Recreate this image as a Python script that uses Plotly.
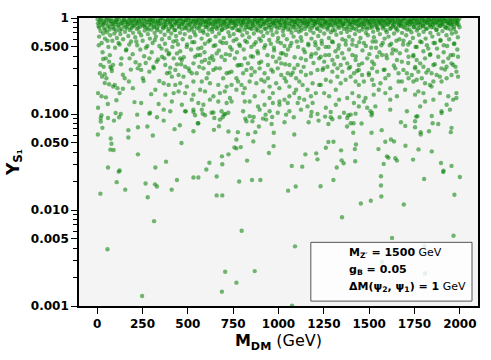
import plotly.graph_objects as go

# (M_DM [GeV], Y_S1), grouped by height on the log axis
top_band = [
    (3, 0.97), (8, 0.82), (11, 0.64), (14, 0.91), (19, 0.73), (22, 0.99), (25, 0.55), (28, 0.86), (33, 0.69), (36, 0.94),
    (39, 0.78), (43, 0.61), (47, 0.88), (51, 0.96), (54, 0.71), (58, 0.83), (62, 0.5), (65, 0.92), (69, 0.76), (72, 0.66),
    (76, 0.98), (80, 0.87), (84, 0.58), (88, 0.8), (91, 0.93), (95, 0.69), (98, 0.85),
    (102, 0.95), (106, 0.74), (109, 0.62), (113, 0.9), (117, 0.81), (121, 0.97), (124, 0.53), (128, 0.68), (132, 0.88), (135, 0.77),
    (139, 0.94), (143, 0.6), (146, 0.84), (150, 0.99), (154, 0.72), (158, 0.91), (161, 0.47), (165, 0.79), (169, 0.86), (172, 0.65),
    (176, 0.96), (180, 0.75), (184, 0.89), (187, 0.57), (191, 0.82), (195, 0.93), (198, 0.7),
    (203, 0.98), (207, 0.84), (210, 0.63), (214, 0.92), (218, 0.77), (221, 0.52), (225, 0.87), (229, 0.95), (232, 0.71), (236, 0.81),
    (240, 0.99), (243, 0.66), (247, 0.9), (251, 0.58), (254, 0.83), (258, 0.94), (262, 0.74), (265, 0.86), (269, 0.49), (273, 0.97),
    (276, 0.79), (280, 0.68), (284, 0.91), (288, 0.85), (291, 0.61), (295, 0.96), (299, 0.76),
    (302, 0.89), (306, 0.55), (310, 0.93), (313, 0.8), (317, 0.7), (321, 0.98), (324, 0.64), (328, 0.87), (332, 0.75), (335, 0.92),
    (339, 0.83), (343, 0.51), (347, 0.95), (350, 0.72), (354, 0.88), (358, 0.6), (361, 0.99), (365, 0.78), (369, 0.85), (372, 0.67),
    (376, 0.94), (380, 0.81), (383, 0.46), (387, 0.9), (391, 0.73), (395, 0.97), (398, 0.62),
    (402, 0.86), (406, 0.93), (409, 0.69), (413, 0.8), (417, 0.98), (420, 0.57), (424, 0.84), (428, 0.91), (431, 0.75), (435, 0.65),
    (439, 0.96), (443, 0.88), (446, 0.53), (450, 0.82), (454, 0.94), (457, 0.7), (461, 0.87), (465, 0.99), (468, 0.77), (472, 0.6),
    (476, 0.92), (480, 0.84), (483, 0.68), (487, 0.95), (491, 0.79), (494, 0.5), (498, 0.89),
    (502, 0.97), (505, 0.74), (509, 0.85), (513, 0.63), (517, 0.93), (520, 0.8), (524, 0.56), (528, 0.9), (531, 0.98), (535, 0.71),
    (539, 0.86), (542, 0.66), (546, 0.94), (550, 0.78), (554, 0.88), (557, 0.48), (561, 0.96), (565, 0.83), (568, 0.73), (572, 0.91),
    (576, 0.61), (579, 0.99), (583, 0.85), (587, 0.7), (591, 0.93), (594, 0.54), (598, 0.81),
    (601, 0.9), (605, 0.96), (609, 0.67), (612, 0.84), (616, 0.76), (620, 0.98), (623, 0.59), (627, 0.87), (631, 0.92), (635, 0.72),
    (638, 0.8), (642, 0.51), (646, 0.95), (649, 0.86), (653, 0.64), (657, 0.9), (661, 0.77), (664, 0.99), (668, 0.82), (672, 0.69),
    (675, 0.93), (679, 0.57), (683, 0.88), (686, 0.75), (690, 0.97), (694, 0.83), (698, 0.62),
    (701, 0.91), (705, 0.78), (709, 0.94), (712, 0.55), (716, 0.86), (720, 0.99), (724, 0.71), (727, 0.82), (731, 0.65), (735, 0.93),
    (738, 0.88), (742, 0.47), (746, 0.96), (750, 0.79), (753, 0.68), (757, 0.9), (761, 0.84), (764, 0.98), (768, 0.6), (772, 0.75),
    (775, 0.92), (779, 0.87), (783, 0.53), (787, 0.95), (790, 0.73), (794, 0.81), (798, 0.97),
    (801, 0.66), (805, 0.89), (809, 0.94), (813, 0.76), (816, 0.58), (820, 0.85), (824, 0.99), (827, 0.7), (831, 0.91), (835, 0.8),
    (838, 0.63), (842, 0.96), (846, 0.87), (850, 0.5), (853, 0.77), (857, 0.93), (861, 0.84), (864, 0.69), (868, 0.98), (872, 0.9),
    (875, 0.56), (879, 0.81), (883, 0.95), (886, 0.74), (890, 0.88), (894, 0.61), (898, 0.97),
    (901, 0.83), (905, 0.72), (909, 0.92), (912, 0.99), (916, 0.65), (920, 0.86), (923, 0.78), (927, 0.52), (931, 0.94), (934, 0.89),
    (938, 0.7), (942, 0.97), (946, 0.8), (949, 0.59), (953, 0.91), (957, 0.85), (960, 0.74), (964, 0.96), (968, 0.67), (971, 0.88),
    (975, 0.49), (979, 0.93), (983, 0.82), (986, 0.99), (990, 0.71), (994, 0.87), (998, 0.62),
    (1002, 0.95), (1005, 0.79), (1009, 0.9), (1013, 0.55), (1016, 0.84), (1020, 0.98), (1024, 0.73), (1027, 0.66), (1031, 0.92), (1035, 0.87),
    (1038, 0.8), (1042, 0.96), (1046, 0.6), (1050, 0.89), (1053, 0.76), (1057, 0.99), (1061, 0.83), (1064, 0.51), (1068, 0.93), (1072, 0.7),
    (1075, 0.86), (1079, 0.97), (1083, 0.64), (1086, 0.81), (1090, 0.91), (1094, 0.75), (1098, 0.94),
    (1101, 0.57), (1105, 0.88), (1108, 0.99), (1112, 0.72), (1116, 0.84), (1119, 0.93), (1123, 0.63), (1127, 0.79), (1131, 0.96), (1134, 0.86),
    (1138, 0.47), (1142, 0.9), (1145, 0.77), (1149, 0.98), (1153, 0.68), (1156, 0.85), (1160, 0.92), (1164, 0.54), (1167, 0.81), (1171, 0.95),
    (1175, 0.74), (1179, 0.89), (1182, 0.61), (1186, 0.97), (1190, 0.83), (1193, 0.7), (1197, 0.93),
    (1201, 0.87), (1204, 0.52), (1208, 0.96), (1212, 0.78), (1215, 0.9), (1219, 0.65), (1223, 0.99), (1226, 0.84), (1230, 0.73), (1234, 0.93),
    (1238, 0.58), (1241, 0.86), (1245, 0.97), (1249, 0.8), (1252, 0.69), (1256, 0.91), (1260, 0.5), (1263, 0.88), (1267, 0.95), (1271, 0.76),
    (1274, 0.83), (1278, 0.62), (1282, 0.98), (1286, 0.9), (1289, 0.71), (1293, 0.85), (1297, 0.94),
    (1300, 0.56), (1304, 0.82), (1308, 0.99), (1311, 0.74), (1315, 0.89), (1319, 0.67), (1323, 0.95), (1326, 0.86), (1330, 0.48), (1334, 0.79),
    (1337, 0.92), (1341, 0.97), (1345, 0.7), (1348, 0.84), (1352, 0.6), (1356, 0.9), (1360, 0.77), (1363, 0.98), (1367, 0.87), (1371, 0.53),
    (1374, 0.93), (1378, 0.72), (1382, 0.81), (1385, 0.96), (1389, 0.64), (1393, 0.88), (1397, 0.75),
    (1400, 0.99), (1404, 0.85), (1408, 0.59), (1411, 0.91), (1415, 0.78), (1419, 0.95), (1422, 0.68), (1426, 0.87), (1430, 0.51), (1434, 0.93),
    (1437, 0.82), (1441, 0.97), (1445, 0.73), (1448, 0.89), (1452, 0.62), (1456, 0.84), (1459, 0.99), (1463, 0.76), (1467, 0.92), (1471, 0.55),
    (1474, 0.86), (1478, 0.96), (1482, 0.7), (1485, 0.8), (1489, 0.94), (1493, 0.66), (1496, 0.88),
    (1500, 0.97), (1504, 0.79), (1508, 0.9), (1511, 0.49), (1515, 0.84), (1519, 0.98), (1522, 0.72), (1526, 0.63), (1530, 0.93), (1534, 0.87),
    (1537, 0.57), (1541, 0.81), (1545, 0.95), (1548, 0.75), (1552, 0.9), (1556, 0.99), (1559, 0.68), (1563, 0.86), (1567, 0.52), (1571, 0.92),
    (1574, 0.78), (1578, 0.97), (1582, 0.83), (1585, 0.61), (1589, 0.89), (1593, 0.94), (1597, 0.71),
    (1600, 0.85), (1604, 0.99), (1607, 0.64), (1611, 0.91), (1615, 0.77), (1618, 0.96), (1622, 0.54), (1626, 0.88), (1630, 0.82), (1633, 0.93),
    (1637, 0.69), (1641, 0.98), (1644, 0.8), (1648, 0.46), (1652, 0.9), (1656, 0.74), (1659, 0.95), (1663, 0.86), (1667, 0.6), (1670, 0.92),
    (1674, 0.83), (1678, 0.97), (1681, 0.7), (1685, 0.87), (1689, 0.58), (1693, 0.94), (1696, 0.79),
    (1700, 0.99), (1704, 0.66), (1708, 0.89), (1711, 0.84), (1715, 0.53), (1719, 0.95), (1722, 0.76), (1726, 0.91), (1730, 0.97), (1733, 0.71),
    (1737, 0.86), (1741, 0.62), (1745, 0.93), (1748, 0.81), (1752, 0.98), (1756, 0.5), (1760, 0.88), (1763, 0.74), (1767, 0.94), (1771, 0.85),
    (1774, 0.67), (1778, 0.99), (1782, 0.79), (1786, 0.9), (1789, 0.56), (1793, 0.96), (1797, 0.83),
    (1800, 0.72), (1804, 0.92), (1808, 0.87), (1811, 0.61), (1815, 0.98), (1819, 0.78), (1822, 0.89), (1826, 0.48), (1830, 0.95), (1834, 0.84),
    (1837, 0.7), (1841, 0.93), (1845, 0.99), (1848, 0.64), (1852, 0.86), (1856, 0.8), (1859, 0.97), (1863, 0.55), (1867, 0.9), (1870, 0.75),
    (1874, 0.94), (1878, 0.85), (1882, 0.68), (1885, 0.98), (1889, 0.82), (1893, 0.59), (1897, 0.91),
    (1900, 0.96), (1904, 0.73), (1908, 0.87), (1911, 0.52), (1915, 0.93), (1919, 0.99), (1922, 0.79), (1926, 0.66), (1930, 0.9), (1934, 0.84),
    (1937, 0.97), (1941, 0.6), (1945, 0.88), (1948, 0.76), (1952, 0.94), (1956, 0.69), (1959, 0.86), (1963, 0.98), (1967, 0.81), (1970, 0.54),
    (1974, 0.92), (1978, 0.71), (1982, 0.89), (1985, 0.95), (1989, 0.63), (1993, 0.85), (1997, 0.99),
]

# the darkest strip just under 1
top_strip = [
    (5, 0.88), (12, 0.79), (17, 0.95), (31, 0.84), (38, 0.9), (45, 0.75), (56, 0.99), (67, 0.81), (74, 0.93), (86, 0.87),
    (93, 0.77), (104, 0.91), (111, 0.98), (119, 0.84), (126, 0.74), (137, 0.89), (148, 0.95), (156, 0.8), (163, 0.92), (171, 0.86),
    (182, 0.97), (189, 0.78), (193, 0.9), (201, 0.83), (212, 0.96), (219, 0.88), (227, 0.79), (234, 0.93), (245, 0.86), (256, 0.99),
    (263, 0.81), (271, 0.91), (282, 0.76), (289, 0.95), (297, 0.85), (304, 0.97), (315, 0.82), (319, 0.9), (330, 0.78), (337, 0.94),
    (345, 0.87), (352, 0.99), (363, 0.8), (371, 0.92), (378, 0.85), (389, 0.96), (396, 0.77), (404, 0.9), (411, 0.83), (419, 0.97),
    (426, 0.75), (433, 0.88), (441, 0.93), (452, 0.8), (459, 0.98), (467, 0.86), (474, 0.91), (485, 0.78), (489, 0.95), (500, 0.84),
    (507, 0.99), (515, 0.89), (522, 0.76), (533, 0.94), (537, 0.82), (548, 0.91), (555, 0.97), (563, 0.79), (570, 0.87), (581, 0.95),
    (585, 0.74), (596, 0.9), (603, 0.81), (611, 0.93), (618, 0.88), (625, 0.99), (633, 0.77), (640, 0.86), (651, 0.94), (655, 0.8),
    (666, 0.91), (673, 0.97), (681, 0.84), (688, 0.76), (696, 0.92), (703, 0.87), (714, 0.99), (718, 0.81), (729, 0.9), (736, 0.95),
    (744, 0.78), (751, 0.88), (759, 0.93), (766, 0.83), (777, 0.97), (781, 0.75), (792, 0.89), (799, 0.85), (807, 0.92), (814, 0.99),
    (822, 0.8), (829, 0.87), (836, 0.95), (844, 0.78), (855, 0.9), (859, 0.83), (870, 0.96), (877, 0.76), (885, 0.89), (892, 0.93),
    (899, 0.81), (907, 0.98), (914, 0.86), (922, 0.91), (929, 0.77), (940, 0.95), (944, 0.84), (955, 0.99), (962, 0.8), (969, 0.9),
    (977, 0.87), (988, 0.94), (992, 0.79), (1003, 0.92), (1011, 0.85), (1018, 0.97), (1029, 0.78), (1033, 0.9), (1040, 0.83), (1048, 0.99),
    (1059, 0.88), (1066, 0.76), (1074, 0.94), (1081, 0.81), (1088, 0.91), (1096, 0.86), (1103, 0.98), (1110, 0.8), (1121, 0.93), (1125, 0.74),
    (1136, 0.89), (1144, 0.96), (1151, 0.82), (1158, 0.9), (1166, 0.87), (1173, 0.99), (1184, 0.79), (1188, 0.94), (1199, 0.85), (1206, 0.91),
    (1214, 0.77), (1221, 0.96), (1228, 0.88), (1236, 0.82), (1243, 0.99), (1254, 0.86), (1258, 0.93), (1269, 0.79), (1276, 0.9), (1284, 0.84),
    (1291, 0.97), (1299, 0.75), (1306, 0.92), (1313, 0.88), (1321, 0.98), (1328, 0.81), (1339, 0.9), (1343, 0.95), (1354, 0.83), (1358, 0.87),
    (1369, 0.99), (1376, 0.78), (1384, 0.93), (1391, 0.86), (1399, 0.91), (1406, 0.8), (1413, 0.96), (1421, 0.88), (1428, 0.76), (1436, 0.94),
    (1443, 0.84), (1450, 0.99), (1458, 0.9), (1465, 0.81), (1473, 0.87), (1480, 0.97), (1487, 0.77), (1495, 0.92), (1502, 0.86), (1510, 0.95),
    (1517, 0.8), (1524, 0.9), (1532, 0.98), (1539, 0.84), (1547, 0.78), (1554, 0.93), (1561, 0.88), (1569, 0.96), (1576, 0.82), (1584, 0.91),
    (1591, 0.75), (1598, 0.99), (1605, 0.86), (1613, 0.92), (1620, 0.79), (1628, 0.97), (1635, 0.85), (1642, 0.9), (1650, 0.77), (1657, 0.98),
    (1665, 0.83), (1672, 0.88), (1679, 0.94), (1687, 0.81), (1694, 0.99), (1702, 0.87), (1709, 0.76), (1716, 0.93), (1724, 0.85), (1731, 0.9),
    (1739, 0.97), (1746, 0.8), (1753, 0.88), (1761, 0.96), (1768, 0.78), (1776, 0.91), (1783, 0.86), (1790, 0.99), (1798, 0.82), (1805, 0.94),
    (1813, 0.77), (1820, 0.9), (1827, 0.97), (1835, 0.85), (1842, 0.8), (1850, 0.92), (1857, 0.88), (1864, 0.99), (1872, 0.76), (1879, 0.9),
    (1887, 0.95), (1894, 0.83), (1901, 0.87), (1909, 0.98), (1916, 0.81), (1924, 0.93), (1931, 0.78), (1938, 0.89), (1946, 0.96), (1953, 0.84),
    (1961, 0.91), (1968, 0.77), (1975, 0.99), (1983, 0.86), (1990, 0.93), (1998, 0.8),
]

upper_mid = [
    (9, 0.52), (30, 0.44), (57, 0.58), (70, 0.41), (99, 0.49), (118, 0.55), (134, 0.38), (159, 0.46), (177, 0.53), (196, 0.42),
    (216, 0.57), (238, 0.47), (259, 0.4), (277, 0.51), (301, 0.44), (318, 0.59), (336, 0.37), (355, 0.48), (374, 0.54), (397, 0.43),
    (415, 0.5), (437, 0.58), (458, 0.45), (478, 0.39), (496, 0.53), (518, 0.47), (536, 0.56), (553, 0.41), (575, 0.49), (592, 0.44),
    (614, 0.57), (634, 0.4), (652, 0.52), (671, 0.46), (692, 0.55), (710, 0.42), (733, 0.5), (752, 0.58), (771, 0.44), (788, 0.51),
    (808, 0.47), (826, 0.56), (848, 0.4), (866, 0.53), (884, 0.45), (903, 0.58), (921, 0.49), (939, 0.41), (958, 0.54), (976, 0.46),
    (995, 0.57), (1014, 0.43), (1033, 0.51), (1052, 0.47), (1071, 0.55), (1089, 0.39), (1108, 0.5), (1127, 0.58), (1146, 0.44), (1165, 0.52),
    (1183, 0.42), (1202, 0.56), (1220, 0.48), (1239, 0.54), (1258, 0.41), (1277, 0.5), (1295, 0.57), (1314, 0.45), (1333, 0.52), (1351, 0.43),
    (1370, 0.58), (1389, 0.47), (1407, 0.53), (1426, 0.4), (1445, 0.56), (1463, 0.46), (1482, 0.51), (1501, 0.42), (1519, 0.57), (1538, 0.49),
    (1557, 0.44), (1575, 0.55), (1594, 0.41), (1613, 0.52), (1631, 0.47), (1650, 0.58), (1669, 0.43), (1687, 0.53), (1706, 0.46), (1725, 0.56),
    (1743, 0.4), (1762, 0.5), (1781, 0.57), (1799, 0.45), (1818, 0.52), (1837, 0.42), (1855, 0.55), (1874, 0.48), (1893, 0.58), (1911, 0.44),
    (1930, 0.51), (1949, 0.41), (1967, 0.54), (1986, 0.47),
    (36, 0.31), (81, 0.28), (131, 0.33), (186, 0.29), (268, 0.34), (312, 0.3), (399, 0.27), (463, 0.33), (509, 0.28), (563, 0.31),
    (617, 0.34), (655, 0.3), (727, 0.27), (774, 0.32), (851, 0.3), (893, 0.34), (960, 0.29), (1037, 0.33), (1078, 0.27), (1139, 0.31),
    (1193, 0.34), (1247, 0.3), (1307, 0.33), (1395, 0.31), (1433, 0.28), (1527, 0.33), (1585, 0.29), (1636, 0.32), (1715, 0.34), (1754, 0.31),
    (1815, 0.27), (1862, 0.33), (1918, 0.29), (1976, 0.31),
]

mid_band = [
    (19, 0.325), (15, 0.266), (27, 0.245), (42, 0.26), (51, 0.236), (42, 0.21), (66, 0.204), (88, 0.193), (97, 0.201), (112, 0.186),
    (142, 0.183), (197, 0.186), (175, 0.218), (142, 0.256), (152, 0.236), (224, 0.299), (243, 0.288), (252, 0.236), (256, 0.221), (288, 0.276),
    (310, 0.311), (298, 0.161), (321, 0.179), (343, 0.221), (5, 0.165), (24, 0.153), (48, 0.149), (59, 0.127), (106, 0.139), (124, 0.165),
    (206, 0.133), (243, 0.13), (292, 0.103), (339, 0.127), (5, 0.116), (73, 0.311), (88, 0.325), (79, 0.299), (66, 0.351), (48, 0.38),
    (33, 0.374), (179, 0.38), (212, 0.346), (234, 0.325), (328, 0.351), (288, 0.38),
    (358, 0.395), (371, 0.38), (394, 0.418), (422, 0.38), (440, 0.428), (458, 0.38), (467, 0.365), (485, 0.311), (504, 0.299), (531, 0.337),
    (540, 0.395), (568, 0.411), (577, 0.351), (595, 0.365), (622, 0.38), (641, 0.365), (659, 0.428), (686, 0.395), (704, 0.365), (732, 0.411),
    (759, 0.38), (783, 0.324), (376, 0.324), (403, 0.304), (431, 0.288), (440, 0.329), (385, 0.266), (412, 0.245), (449, 0.255), (476, 0.245),
    (522, 0.266), (549, 0.266), (586, 0.299), (613, 0.266), (641, 0.288), (677, 0.299), (714, 0.266), (741, 0.276), (768, 0.236), (367, 0.209),
    (394, 0.201), (431, 0.201), (458, 0.209), (495, 0.193), (531, 0.218), (577, 0.218), (604, 0.236), (622, 0.209), (668, 0.201), (695, 0.236),
    (714, 0.193), (741, 0.201), (777, 0.218), (376, 0.159), (422, 0.165), (449, 0.172), (485, 0.165), (531, 0.159), (568, 0.179), (595, 0.172),
    (641, 0.153), (677, 0.165), (704, 0.172), (732, 0.147), (768, 0.179), (412, 0.135), (467, 0.125), (522, 0.141), (558, 0.13), (586, 0.125),
    (622, 0.141), (668, 0.135), (714, 0.13), (741, 0.135), (367, 0.111), (403, 0.107), (485, 0.107), (531, 0.111), (577, 0.111), (631, 0.103),
    (686, 0.107), (723, 0.103),
    (796, 0.324), (814, 0.38), (832, 0.337), (859, 0.395), (887, 0.428), (905, 0.351), (942, 0.324), (969, 0.395), (987, 0.351), (1005, 0.38),
    (1015, 0.337), (1024, 0.428), (1042, 0.411), (1060, 0.324), (1087, 0.299), (1106, 0.324), (1124, 0.38), (1151, 0.365), (1179, 0.395), (1206, 0.428),
    (1224, 0.38), (805, 0.266), (823, 0.288), (850, 0.255), (869, 0.276), (896, 0.299), (923, 0.266), (942, 0.236), (969, 0.276), (996, 0.299),
    (1015, 0.255), (1033, 0.236), (1051, 0.266), (1069, 0.255), (1097, 0.236), (1124, 0.276), (1151, 0.255), (1179, 0.266), (1215, 0.288), (796, 0.201),
    (814, 0.186), (841, 0.218), (878, 0.209), (905, 0.227), (923, 0.218), (951, 0.193), (987, 0.209), (1005, 0.186), (1042, 0.218), (1060, 0.193),
    (1097, 0.179), (1115, 0.218), (1133, 0.201), (1160, 0.179), (1188, 0.209), (1224, 0.201), (805, 0.165), (869, 0.153), (914, 0.172), (951, 0.147),
    (969, 0.165), (1005, 0.135), (1033, 0.141), (1060, 0.153), (1087, 0.165), (1115, 0.147), (1142, 0.141), (1179, 0.153), (1206, 0.165), (814, 0.135),
    (841, 0.135), (887, 0.12), (923, 0.125), (969, 0.13), (1005, 0.125), (1051, 0.13), (1106, 0.13), (1160, 0.12), (1188, 0.13), (805, 0.107),
    (896, 0.111), (951, 0.107), (996, 0.103), (1060, 0.107), (1124, 0.111),
    (1233, 0.395), (1252, 0.351), (1279, 0.411), (1297, 0.365), (1325, 0.395), (1343, 0.324), (1361, 0.38), (1379, 0.337), (1407, 0.411), (1425, 0.365),
    (1443, 0.324), (1461, 0.337), (1489, 0.38), (1516, 0.351), (1544, 0.395), (1571, 0.411), (1598, 0.38), (1626, 0.428), (1653, 0.365), (1243, 0.288),
    (1270, 0.311), (1297, 0.276), (1325, 0.299), (1352, 0.276), (1388, 0.299), (1416, 0.266), (1443, 0.288), (1461, 0.255), (1498, 0.266), (1516, 0.299),
    (1544, 0.276), (1580, 0.288), (1607, 0.255), (1644, 0.299), (1662, 0.266), (1233, 0.201), (1261, 0.227), (1288, 0.218), (1325, 0.245), (1343, 0.209),
    (1370, 0.227), (1398, 0.245), (1425, 0.218), (1443, 0.201), (1471, 0.218), (1498, 0.255), (1516, 0.227), (1525, 0.201), (1562, 0.209), (1589, 0.236),
    (1616, 0.186), (1662, 0.218), (1252, 0.165), (1279, 0.153), (1316, 0.179), (1334, 0.141), (1379, 0.147), (1407, 0.165), (1443, 0.153), (1471, 0.135),
    (1480, 0.147), (1525, 0.159), (1553, 0.179), (1589, 0.165), (1616, 0.141), (1653, 0.153), (1261, 0.116), (1316, 0.125), (1361, 0.103), (1416, 0.13),
    (1443, 0.12), (1489, 0.116), (1507, 0.107), (1534, 0.12), (1616, 0.111),
    (1680, 0.351), (1717, 0.395), (1744, 0.411), (1762, 0.365), (1781, 0.337), (1808, 0.38), (1835, 0.411), (1854, 0.324), (1881, 0.395), (1908, 0.351),
    (1936, 0.38), (1963, 0.411), (1990, 0.395), (1689, 0.288), (1708, 0.266), (1735, 0.255), (1753, 0.299), (1771, 0.276), (1799, 0.311), (1826, 0.288),
    (1844, 0.266), (1872, 0.255), (1899, 0.299), (1927, 0.311), (1954, 0.337), (1963, 0.324), (1981, 0.276), (1680, 0.218), (1717, 0.236), (1744, 0.218),
    (1762, 0.227), (1790, 0.236), (1808, 0.209), (1835, 0.201), (1854, 0.218), (1890, 0.245), (1899, 0.218), (1927, 0.236), (1954, 0.255), (1990, 0.245),
    (1698, 0.179), (1753, 0.159), (1771, 0.172), (1799, 0.165), (1844, 0.193), (1854, 0.141), (1890, 0.165), (1936, 0.153), (1963, 0.141), (1981, 0.165),
    (1708, 0.107), (1781, 0.12), (1808, 0.135), (1899, 0.107), (1927, 0.125), (1945, 0.111), (1981, 0.147),
]

low_band = [
    (24, 0.097), (20, 0.091), (20, 0.0834), (60, 0.091), (93, 0.0854), (102, 0.1025), (121, 0.0925), (130, 0.1001), (221, 0.0985), (288, 0.1009),
    (330, 0.0925), (367, 0.0854), (489, 0.1066), (531, 0.105), (540, 0.097), (558, 0.0801), (582, 0.1009), (595, 0.097), (641, 0.1035), (646, 0.091),
    (677, 0.0874), (699, 0.0985), (692, 0.0925), (706, 0.1001), (817, 0.0896), (823, 0.0841), (841, 0.0947), (863, 0.0932), (856, 0.0841), (914, 0.0896),
    (929, 0.0985), (932, 0.0874), (965, 0.0932), (962, 0.0788), (1042, 0.0985), (1033, 0.0821), (1084, 0.0925), (29, 0.0717), (4, 0.0612), (172, 0.0679),
    (172, 0.057), (225, 0.0729), (277, 0.074), (307, 0.0598), (427, 0.0695), (456, 0.0764), (531, 0.0662), (555, 0.0801), (644, 0.0684), (672, 0.0746),
    (724, 0.0657), (768, 0.0543), (776, 0.0647), (832, 0.0617), (872, 0.0647), (861, 0.0518), (892, 0.074), (974, 0.0637), (1087, 0.0612), (75, 0.0556),
    (79, 0.049), (73, 0.0425), (91, 0.0421), (465, 0.0498), (757, 0.0449), (768, 0.0438), (792, 0.0452), (688, 0.0362), (724, 0.038), (690, 0.03),
    (973, 0.0463), (947, 0.0392), (225, 0.038), (380, 0.0319), (827, 0.0327), (1073, 0.0288), (60, 0.0277), (119, 0.0251), (124, 0.0258), (321, 0.0277),
    (619, 0.0311), (602, 0.0264), (659, 0.0223), (531, 0.0218), (558, 0.0218), (440, 0.0205), (108, 0.0195), (267, 0.0189), (319, 0.0185), (330, 0.0176),
    (411, 0.0163), (155, 0.0163), (783, 0.0198), (854, 0.0205), (900, 0.0205), (1053, 0.0159), (1095, 0.0176), (18, 0.0148), (279, 0.0136), (659, 0.0142),
    (690, 0.0142), (314, 0.00765), (797, 0.00607), (57, 0.0039), (1091, 0.00418), (706, 0.00227), (869, 0.00231), (768, 0.00175), (688, 0.00141), (248, 0.00127),
    (1075, 0.00101),
    (1182, 0.105), (1179, 0.0954), (1215, 0.1001), (1221, 0.0854), (1166, 0.0821), (1257, 0.0939), (1288, 0.0925), (1297, 0.0881), (1288, 0.105), (1275, 0.0788),
    (1337, 0.0925), (1379, 0.091), (1385, 0.097), (1398, 0.0985), (1425, 0.1009), (1378, 0.074), (1398, 0.0801), (1414, 0.0801), (1458, 0.0795), (1412, 0.0637),
    (1513, 0.097), (1516, 0.1025), (1513, 0.0637), (1569, 0.0679), (1675, 0.0821), (1699, 0.0752), (1753, 0.0841), (1753, 0.0729), (1766, 0.0947), (1759, 0.0939),
    (1845, 0.0954), (1850, 0.0801), (1881, 0.0788), (1899, 0.1025), (1784, 0.0647), (1784, 0.0612), (1830, 0.0662), (1954, 0.0717), (1950, 0.0647), (1275, 0.051),
    (1303, 0.0514), (1427, 0.0482), (1421, 0.0431), (1345, 0.0418), (1261, 0.0445), (1208, 0.0389), (1148, 0.038), (1215, 0.0337), (1348, 0.0329), (1359, 0.0307),
    (1423, 0.0322), (1321, 0.0277), (1131, 0.0283), (1589, 0.0514), (1620, 0.0543), (1637, 0.0518), (1700, 0.0467), (1551, 0.0431), (1772, 0.0428), (1845, 0.0408),
    (1598, 0.0362), (1606, 0.0351), (1644, 0.0346), (1653, 0.0327), (1580, 0.0302), (1742, 0.0335), (1896, 0.0309), (1954, 0.0288), (1910, 0.0256), (1908, 0.0249),
    (1803, 0.021), (2000, 0.0221), (1303, 0.0205), (1232, 0.0177), (1565, 0.0225), (1565, 0.018), (1567, 0.0138), (1454, 0.0117), (1509, 0.0125), (1691, 0.0114),
    (1970, 0.0144), (1350, 0.0084), (1626, 0.0051), (1965, 0.0054), (1805, 0.00422), (1571, 0.00288), (1808, 0.00218),
]

y_tick_vals = [0.001, 0.005, 0.01, 0.05, 0.1, 0.5, 1]
y_tick_text = ["0.001", "0.005", "0.010", "0.050", "0.100", "0.500", "1"]
x_tick_vals = [0, 250, 500, 750, 1000, 1250, 1500, 1750, 2000]

info_lines = [
    "<b>M<sub>Z′</sub> = 1500</b> GeV",
    "<b>g<sub>B</sub> = 0.05</b>",
    "<b>ΔM(ψ<sub>2</sub>, ψ<sub>1</sub>) = 1</b> GeV",
]

pts = top_band + top_strip + upper_mid + mid_band + low_band
mass = [p[0] for p in pts]
yld = [p[1] for p in pts]

minor_y = [m * 10 ** e for e in (-3, -2, -1) for m in (2, 3, 4, 6, 7, 8, 9)]

fig = go.Figure(go.Scatter(
    x=mass, y=yld, mode="markers",
    marker=dict(size=4.4, color="rgba(0,128,0,0.55)", line=dict(width=0)),
    showlegend=False,
))

axis_font = dict(family="DejaVu Sans", size=12, color="black", weight="bold")
fig.update_xaxes(
    range=[-100, 2100], tickvals=x_tick_vals, ticks="outside", ticklen=6, tickwidth=1.3,
    tickcolor="black", showline=True, linecolor="black", linewidth=1.6, mirror=True,
    showgrid=False, zeroline=False, tickfont=axis_font,
    title=dict(text="<b>M<sub>DM</sub></b> (GeV)", font=dict(family="DejaVu Sans", size=16, color="black"), standoff=3),
)
fig.update_yaxes(
    type="log", range=[-3, 0], tickvals=y_tick_vals, ticktext=y_tick_text, ticks="outside", ticklen=6,
    tickwidth=1.3, tickcolor="black", showline=True, linecolor="black", linewidth=1.6, mirror=True,
    showgrid=False, zeroline=False, tickfont=axis_font,
    minor=dict(tickvals=minor_y, ticks="outside", ticklen=4, tickwidth=1, tickcolor="black", showgrid=False),
    title=dict(text="<b>Y<sub>S₁</sub></b>", font=dict(family="DejaVu Sans", size=17, color="black"), standoff=7),
)

fig.add_shape(type="rect", xref="paper", yref="paper", x0=0.581, x1=0.985, y0=0.017, y1=0.221,
              line=dict(color="#555555", width=1), fillcolor="rgba(255,255,255,0.82)", layer="above")
for line, ypos in zip(info_lines, [0.183, 0.124, 0.066]):
    fig.add_annotation(xref="paper", yref="paper", x=0.673, y=ypos, xanchor="left", yanchor="middle",
                       align="left", showarrow=False, text=line, borderpad=0,
                       font=dict(family="DejaVu Sans", size=11, color="black"))

fig.update_layout(
    width=491, height=360, margin=dict(l=79, r=11, t=16, b=54),
    plot_bgcolor="#f4f4f4", paper_bgcolor="white",
    font=dict(family="DejaVu Sans", color="black"),
)

fig.write_html("out.html", config={"displayModeBar": False},
               post_script="document.body.style.margin='0';")
